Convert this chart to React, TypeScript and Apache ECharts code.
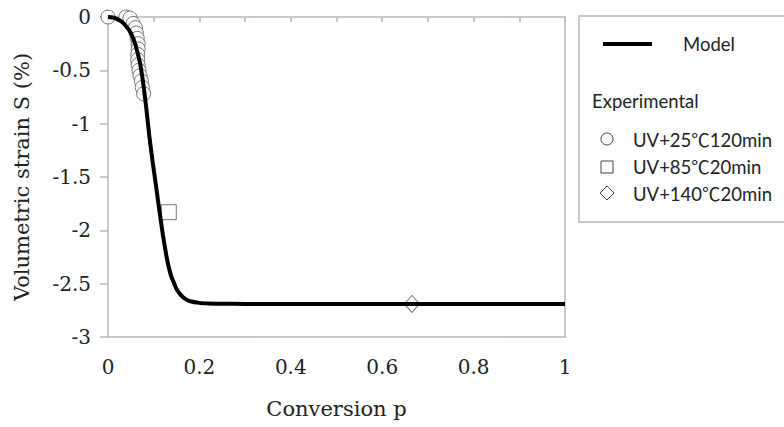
import React, { useEffect, useRef } from "react";
import * as echarts from "echarts";

const modelP = [0, 0.01, 0.02, 0.03, 0.04, 0.05, 0.06, 0.07, 0.075, 0.08, 0.085, 0.09, 0.095, 0.1, 0.105, 0.11, 0.115, 0.12, 0.125, 0.13, 0.135, 0.14, 0.145, 0.15, 0.16, 0.17, 0.18, 0.2, 0.22, 0.25, 0.3, 0.5, 1];
const modelS = [0, -0.005, -0.02, -0.045, -0.09, -0.15, -0.26, -0.43, -0.56, -0.72, -0.9, -1.1, -1.27, -1.43, -1.58, -1.74, -1.89, -2.04, -2.17, -2.29, -2.38, -2.45, -2.5, -2.55, -2.61, -2.645, -2.665, -2.68, -2.685, -2.688, -2.69, -2.69, -2.69];

const uv25P = [0, 0.039, 0.048, 0.055, 0.06, 0.062, 0.064, 0.066, 0.066, 0.065, 0.065, 0.066, 0.068, 0.07, 0.073, 0.075, 0.078];
const uv25S = [0, 0, -0.01, -0.06, -0.1, -0.15, -0.2, -0.25, -0.3, -0.35, -0.4, -0.45, -0.5, -0.55, -0.6, -0.66, -0.72];

const uv85P = [0.133];
const uv85S = [-1.83];

const uv140P = [0.665];
const uv140S = [-2.69];

const yTicks = { min: -3, max: 0, interval: 0.5 };
const xTicks = { min: 0, max: 1, interval: 0.2 };

const legendLabels = ["Model", "Experimental", "UV+25℃120min", "UV+85℃20min", "UV+140℃20min"];

const zip = (a: number[], b: number[]) => a.map((v, i) => [v, b[i]]);

export default function App() {
  const ref = useRef<HTMLDivElement>(null);
  useEffect(() => {
    if (!ref.current) return;
    const chart = echarts.init(ref.current, undefined, { renderer: "svg" });
    const gray = "#b8b8b8";
    const serif = "'DejaVu Serif', 'Liberation Serif', serif";
    const sans = "Lato, 'Noto Sans CJK SC', sans-serif";
    const markerStyle = { color: "#fff", borderColor: "#555", borderWidth: 1 };
    chart.setOption({
      animation: false,
      backgroundColor: "#fff",
      grid: { left: 108, right: 219, top: 17, bottom: 90 },
      xAxis: [
        {
          type: "value",
          position: "bottom",
          min: xTicks.min,
          max: xTicks.max,
          interval: xTicks.interval,
          name: "Conversion p",
          nameLocation: "middle",
          nameGap: 61,
          nameTextStyle: { fontFamily: serif, fontSize: 21, color: "#222" },
          axisLine: { show: true, onZero: false, lineStyle: { color: gray, width: 1.5 } },
          axisTick: { show: false },
          axisLabel: { fontFamily: serif, fontSize: 20, color: "#222", margin: 20 },
          splitLine: { show: false },
        },
        {
          type: "value",
          position: "top",
          min: 0,
          max: 1,
          interval: 0.1,
          axisLine: { show: true, onZero: false, lineStyle: { color: gray, width: 1.5 } },
          axisTick: { show: true, inside: true, length: 5, lineStyle: { color: gray, width: 1.5 } },
          axisLabel: { show: false },
          splitLine: { show: false },
        },
      ],
      yAxis: [
        {
          type: "value",
          min: yTicks.min,
          max: yTicks.max,
          interval: yTicks.interval,
          name: "Volumetric strain S (%)",
          nameLocation: "middle",
          nameGap: 76,
          nameTextStyle: { fontFamily: serif, fontSize: 21, color: "#222" },
          axisLine: { show: true, onZero: false, lineStyle: { color: gray, width: 1.5 } },
          axisTick: { show: true, length: 8, lineStyle: { color: gray, width: 1.5 } },
          axisLabel: { fontFamily: serif, fontSize: 20, color: "#222", margin: 17 },
          splitLine: { show: false },
        },
        {
          type: "value",
          position: "right",
          min: yTicks.min,
          max: yTicks.max,
          interval: yTicks.interval,
          axisLine: { show: true, onZero: false, lineStyle: { color: gray, width: 1.5 } },
          axisTick: { show: false },
          axisLabel: { show: false },
          splitLine: { show: false },
        },
      ],
      series: [
        {
          name: legendLabels[2],
          type: "scatter",
          data: zip(uv25P, uv25S),
          symbol: "circle",
          symbolSize: 14,
          itemStyle: markerStyle,
          z: 2,
        },
        {
          name: legendLabels[3],
          type: "scatter",
          data: zip(uv85P, uv85S),
          symbol: "rect",
          symbolSize: 15,
          itemStyle: markerStyle,
          z: 2,
        },
        {
          name: legendLabels[4],
          type: "scatter",
          data: zip(uv140P, uv140S),
          symbol: "diamond",
          symbolSize: [15, 17],
          itemStyle: markerStyle,
          z: 2,
        },
        {
          name: legendLabels[0],
          type: "line",
          data: zip(modelP, modelS),
          smooth: 0.25,
          showSymbol: false,
          lineStyle: { color: "#000", width: 4 },
          z: 3,
        },
      ],
      graphic: [
        { type: "rect", shape: { x: 579, y: 16, width: 220, height: 206 }, style: { fill: "#fff", stroke: gray, lineWidth: 1.5 }, z: 10 },
        { type: "line", shape: { x1: 603, y1: 44, x2: 652, y2: 44 }, style: { stroke: "#000", lineWidth: 4 }, z: 11 },
        { type: "text", x: 683, y: 44, style: { text: legendLabels[0], font: `18.5px ${sans}`, fill: "#222", verticalAlign: "middle" }, z: 11 },
        { type: "text", x: 592, y: 101, style: { text: legendLabels[1], font: `18.5px ${sans}`, fill: "#222", verticalAlign: "middle" }, z: 11 },
        { type: "circle", shape: { cx: 607, cy: 139, r: 6 }, style: { fill: "#fff", stroke: "#444", lineWidth: 1 }, z: 11 },
        { type: "text", x: 633, y: 140, style: { text: legendLabels[2], font: `18.5px ${sans}`, fill: "#222", verticalAlign: "middle" }, z: 11 },
        { type: "rect", shape: { x: 601, y: 161, width: 12, height: 12 }, style: { fill: "#fff", stroke: "#444", lineWidth: 1 }, z: 11 },
        { type: "text", x: 633, y: 167, style: { text: legendLabels[3], font: `18.5px ${sans}`, fill: "#222", verticalAlign: "middle" }, z: 11 },
        { type: "polygon", shape: { points: [[607, 186], [614, 193], [607, 200], [600, 193]] }, style: { fill: "#fff", stroke: "#444", lineWidth: 1 }, z: 11 },
        { type: "text", x: 633, y: 194, style: { text: legendLabels[4], font: `18.5px ${sans}`, fill: "#222", verticalAlign: "middle" }, z: 11 },
      ],
    });
    return () => chart.dispose();
  }, []);
  return <div ref={ref} style={{ position: "absolute", left: 0, top: 0, width: 784, height: 427 }} />;
}
